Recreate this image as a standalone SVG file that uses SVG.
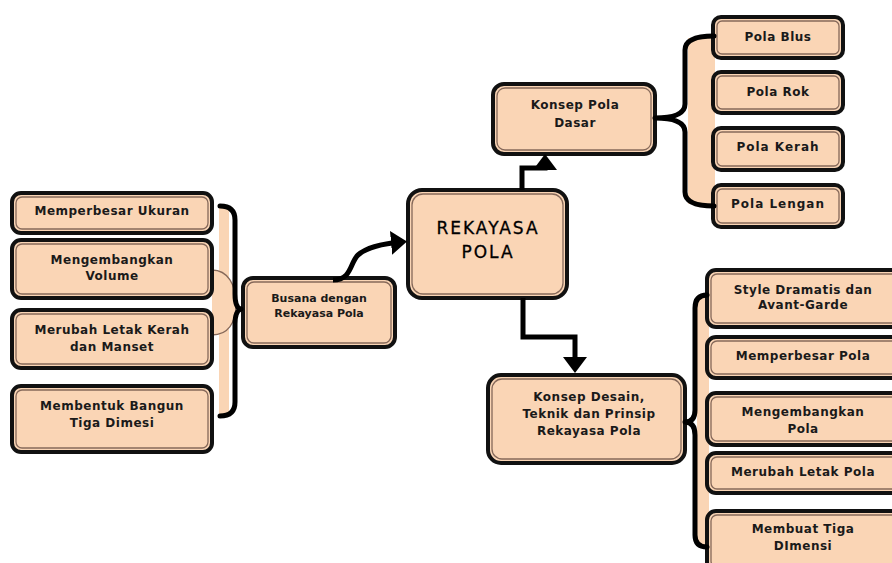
<svg xmlns="http://www.w3.org/2000/svg" width="892" height="563" viewBox="0 0 892 563">
<defs>
<style>
.b{fill:#FAD5B5;stroke:#111;stroke-width:4}
.bi{fill:none;stroke:#86695a;stroke-width:1.3}
.t{font-family:"DejaVu Sans",Verdana,sans-serif;font-weight:bold;font-size:12px;letter-spacing:0.5px;fill:#1a1a1a;text-anchor:middle}
.s{font-size:11px;letter-spacing:0px}
.w{letter-spacing:1px}
.big{font-family:"DejaVu Sans",sans-serif;font-size:17px;letter-spacing:2px;fill:#000;stroke:#000;stroke-width:0.3;text-anchor:middle}
.br{fill:none;stroke:#000;stroke-width:5;stroke-linejoin:round;stroke-linecap:round}
.pf{fill:#FAD5B5;stroke:none}
.c{fill:none;stroke:#000;stroke-width:5;stroke-linejoin:miter}
</style>
<marker id="ah" viewBox="0 0 16 24" refX="10" refY="12" markerWidth="16" markerHeight="24" markerUnits="userSpaceOnUse" orient="auto">
<path d="M0,0 L16,12 L0,24 z" fill="#000"/>
</marker>
</defs>
<rect width="892" height="563" fill="#fff"/>

<!-- brace fills -->
<g id="brace-fills">
<rect class="pf" x="219" y="207" width="10" height="208"/>
<path d="M212 270 C228 270 236 285 236 304 C236 323 228 335 212 335" fill="#FAD5B5" stroke="#86695a" stroke-width="1.3"/>
<rect class="pf" x="688" y="38" width="27" height="166"/>
<rect class="pf" x="697" y="298" width="12" height="247"/>
</g>

<!-- left items -->
<g id="n-memperbesar-ukuran"><rect class="b" x="12" y="193" width="200" height="40" rx="9"/><rect class="bi" x="16" y="197" width="192" height="32" rx="6"/><text class="t" x="112" y="215">Memperbesar Ukuran</text></g>
<g id="n-mengembangkan-volume"><rect class="b" x="12" y="240" width="200" height="58" rx="9"/><rect class="bi" x="16" y="244" width="192" height="50" rx="6"/><text class="t" x="112" y="264">Mengembangkan</text><text class="t" x="112" y="280">Volume</text></g>
<g id="n-merubah-letak-kerah"><rect class="b" x="12" y="310" width="200" height="58" rx="9"/><rect class="bi" x="16" y="314" width="192" height="50" rx="6"/><text class="t" x="112" y="334">Merubah Letak Kerah</text><text class="t" x="112" y="351">dan Manset</text></g>
<g id="n-membentuk-bangun"><rect class="b" x="12" y="386" width="200" height="66" rx="9"/><rect class="bi" x="16" y="390" width="192" height="58" rx="6"/><text class="t" x="112" y="410">Membentuk Bangun</text><text class="t" x="112" y="427">Tiga Dimesi</text></g>

<!-- central nodes -->
<g id="n-busana"><rect class="b" x="243" y="278" width="152" height="69" rx="10"/><rect class="bi" x="247" y="282" width="144" height="61" rx="7"/><text class="t s" x="319" y="302">Busana dengan</text><text class="t s" x="319" y="317">Rekayasa Pola</text></g>
<g id="n-rekayasa-pola"><rect class="b" x="408" y="190" width="159" height="108" rx="14"/><rect class="bi" x="412" y="194" width="151" height="100" rx="11"/><text class="big" x="488" y="234">REKAYASA</text><text class="big" x="488" y="258">POLA</text></g>
<g id="n-konsep-pola-dasar"><rect class="b" x="493" y="84" width="162" height="70" rx="11"/><rect class="bi" x="497" y="88" width="154" height="62" rx="8"/><text class="t" x="575" y="109">Konsep Pola</text><text class="t" x="575" y="127">Dasar</text></g>
<g id="n-konsep-desain"><rect class="b" x="488" y="375" width="197" height="88" rx="13"/><rect class="bi" x="492" y="379" width="189" height="80" rx="10"/><text class="t" x="589" y="401">Konsep Desain,</text><text class="t" x="589" y="418">Teknik dan Prinsip</text><text class="t" x="589" y="435">Rekayasa  Pola</text></g>

<!-- top right items -->
<g id="n-pola-blus"><rect class="b" x="713" y="17" width="130" height="41" rx="8"/><rect class="bi" x="717" y="21" width="122" height="33" rx="5"/><text class="t" x="778" y="41">Pola Blus</text></g>
<g id="n-pola-rok"><rect class="b" x="713" y="72" width="130" height="41" rx="8"/><rect class="bi" x="717" y="76" width="122" height="33" rx="5"/><text class="t" x="778" y="96">Pola Rok</text></g>
<g id="n-pola-kerah"><rect class="b" x="713" y="128" width="130" height="42" rx="8"/><rect class="bi" x="717" y="132" width="122" height="34" rx="5"/><text class="t w" x="778" y="151">Pola Kerah</text></g>
<g id="n-pola-lengan"><rect class="b" x="713" y="185" width="130" height="42" rx="8"/><rect class="bi" x="717" y="189" width="122" height="34" rx="5"/><text class="t w" x="778" y="208">Pola Lengan</text></g>

<!-- bottom right items -->
<g id="n-style-dramatis"><rect class="b" x="707" y="270" width="195" height="57" rx="9"/><rect class="bi" x="711" y="274" width="187" height="49" rx="6"/><text class="t" x="803" y="294">Style Dramatis dan</text><text class="t" x="803" y="309">Avant-Garde</text></g>
<g id="n-memperbesar-pola"><rect class="b" x="707" y="337" width="195" height="41" rx="9"/><rect class="bi" x="711" y="341" width="187" height="33" rx="6"/><text class="t" x="803" y="360">Memperbesar Pola</text></g>
<g id="n-mengembangkan-pola"><rect class="b" x="707" y="393" width="195" height="52" rx="9"/><rect class="bi" x="711" y="397" width="187" height="44" rx="6"/><text class="t" x="803" y="416">Mengembangkan</text><text class="t" x="803" y="433">Pola</text></g>
<g id="n-merubah-letak-pola"><rect class="b" x="707" y="453" width="195" height="40" rx="9"/><rect class="bi" x="711" y="457" width="187" height="32" rx="6"/><text class="t" x="803" y="476">Merubah Letak Pola</text></g>
<g id="n-membuat-tiga"><rect class="b" x="707" y="511" width="195" height="60" rx="9"/><rect class="bi" x="711" y="515" width="187" height="52" rx="6"/><text class="t" x="803" y="533">Membuat Tiga</text><text class="t" x="803" y="550">DImensi</text></g>

<!-- connectors -->
<g id="connectors">
<path class="br" d="M220 206 Q235 206 235 220 V294 Q235 308 241 309 Q235 311 235 324 V402 Q235 416 220 416"/>
<path class="br" d="M714 36 Q685 36 685 50 V104 Q685 118 655 118 Q685 118 685 132 V192 Q685 206 714 206"/>
<path class="br" d="M707 295 Q695 295 695 308 V410 Q695 422 685 422 Q695 422 695 435 V535 Q695 547 707 547"/>
<path class="c" d="M333 280 C352 280 350 262 358 255 C366 248 378 244 401 242" marker-end="url(#ah)"/>
<path class="c" d="M522 190 V168 H545 V160" marker-end="url(#ah)"/>
<path class="c" d="M523 298 V337 H575 V367" marker-end="url(#ah)"/>
</g>
</svg>
